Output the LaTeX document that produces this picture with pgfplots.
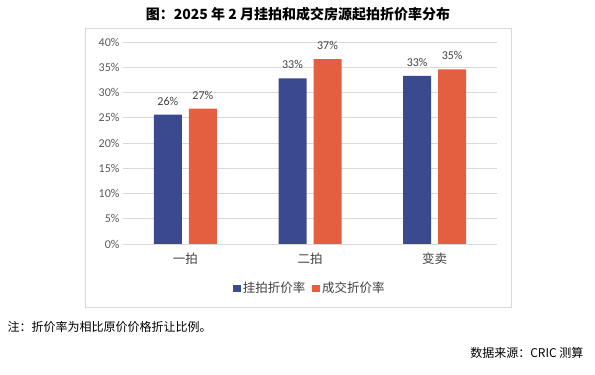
\documentclass[border=0pt]{standalone}
\usepackage{pgfplots}
\pgfplotsset{compat=1.18}
\usepackage{fontspec}
\setmainfont{Carlito}
\newfontfamily\cjk{Noto Sans CJK SC}
\definecolor{cblue}{RGB}{59,74,143}
\definecolor{corange}{RGB}{228,94,64}
\definecolor{tickc}{RGB}{89,89,89}
\definecolor{labc}{RGB}{64,64,64}
\definecolor{gridc}{RGB}{217,217,217}
\begin{document}
\begin{tikzpicture}[x=1pt,y=1pt]
\path (0,0) rectangle (595,375);
\draw[gridc, line width=0.75pt] (85,68) rectangle (511,347);
\node[font=\cjk\bfseries\fontsize{14}{16}\selectfont] at (298,361) {图：2025 年 2 月挂拍和成交房源起拍折价率分布};
\begin{axis}[
  at={(123pt,131pt)}, anchor=south west, scale only axis,
  width=374pt, height=202pt,
  ymin=0, ymax=40, xmin=-0.5, xmax=2.5,
  ytick={0,5,...,40},
  yticklabel={\pgfmathprintnumber{\tick}\%},
  /pgf/number format/assume math mode=true,
  yticklabel style={font=\fontsize{12}{14}\selectfont, text=tickc},
  xtick={0,1,2}, xticklabels={一拍,二拍,变卖},
  xticklabel style={font=\cjk\fontsize{12.5}{14}\selectfont, text=labc, yshift=-5pt},
  major tick length=0pt,
  axis line style={draw=none},
  ymajorgrids, grid style={gridc, line width=0.75pt},
  ybar=7pt, bar width=28pt,
  nodes near coords={\pgfmathprintnumber[fixed,precision=0]{\pgfplotspointmeta}\%},
  nodes near coords style={font=\fontsize{12}{14}\selectfont, text=labc, yshift=6pt},
  legend style={at={(0.5,-0.22)}, anchor=center, legend columns=2, draw=none,
    font=\cjk\fontsize{12.5}{14}\selectfont, text=labc,
    /tikz/every even column/.append style={column sep=5pt}},
  legend image code/.code={\fill[#1] (0pt,-3.8pt) rectangle (7.6pt,3.8pt);},
]
\addplot[fill=cblue, draw=none] coordinates {(0,25.6) (1,32.8) (2,33.3)};
\addplot[fill=corange, draw=none] coordinates {(0,26.8) (1,36.6) (2,34.6)};
\legend{挂拍折价率,成交折价率}
\end{axis}
\node[anchor=west, font=\cjk\fontsize{12}{14}\selectfont] at (4,48) {注：折价率为相比原价价格折让比例。};
\node[anchor=east, font=\cjk\fontsize{12}{14}\selectfont] at (587,22) {数据来源：CRIC 测算};
\end{tikzpicture}
\end{document}
